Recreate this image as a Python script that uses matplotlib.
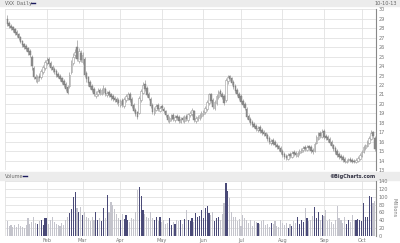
import numpy as np
import matplotlib.pyplot as plt

# VXX daily, 2013-01-02 .. 2013-10-10 (196 trading days)
opens = [29.0, 28.6, 28.3, 28.1, 27.9, 27.6, 27.4, 27.1, 26.7, 26.3, 26.1, 25.9, 25.6, 25.0,
         23.8, 22.9, 22.4, 23.0, 22.8, 23.4, 23.8, 24.3, 24.8, 24.3, 23.9, 23.7, 23.5, 23.2, 23.0, 22.7,
         22.4, 22.1, 21.8, 21.9, 23.4, 24.3, 25.2, 26.0, 24.5, 25.4, 24.4, 24.8, 23.3, 22.8,
         22.3, 21.9, 21.6, 20.8, 21.0, 21.5, 21.1, 21.3, 21.6, 20.9, 21.3, 21.0, 20.8, 20.6, 20.5,
         20.4, 19.9, 20.4, 19.8, 20.4, 20.6, 21.1, 20.5, 19.9, 19.4, 19.1, 19.0, 20.4, 21.2, 22.1, 21.7,
         21.1, 20.5, 19.9, 19.0, 19.4, 19.9, 19.3, 19.8, 19.5, 19.3, 18.8, 18.2, 18.4, 18.8, 18.3,
         18.7, 18.6, 18.1, 18.5, 18.2, 18.7, 18.3, 18.8, 18.9, 19.2, 18.2, 18.4, 18.5, 18.7,
         18.9, 19.1, 19.5, 20.1, 21.0, 20.4, 19.6, 20.1, 20.7, 21.4, 21.1, 20.8, 20.4, 22.4, 23.0, 22.7,
         22.3, 21.9, 21.5, 21.1, 20.8, 20.3, 20.0, 19.5, 18.7, 18.4, 18.1, 17.9, 17.7, 17.2, 17.6, 17.2,
         17.0, 16.9, 16.7, 16.4, 15.9, 16.2, 16.0, 15.7, 15.5, 15.3, 15.0, 14.7, 14.5, 14.2, 14.7, 14.4,
         14.9, 14.8, 14.5, 14.8, 14.9, 15.1, 15.4, 15.1, 15.5, 15.4, 15.1, 15.0, 15.9, 16.3, 16.9, 16.5,
         17.1, 16.6, 16.5, 16.3, 16.0, 15.6, 15.3, 15.0, 14.7, 14.5, 14.4, 14.2, 13.8, 14.1, 14.2, 14.1,
         14.0, 13.8, 14.0, 14.2, 14.5, 14.9, 15.3, 15.5, 15.9, 16.3, 17.0, 16.4]
highs = [29.4, 28.8, 28.5, 28.3, 28.0, 27.8, 27.5, 27.2, 26.8, 26.5, 26.3, 26.0, 25.8, 25.2,
         24.0, 23.2, 23.1, 23.3, 23.7, 24.1, 24.6, 25.0, 25.0, 24.5, 24.1, 23.9, 23.7, 23.4, 23.2, 22.9,
         22.6, 22.3, 22.0, 23.4, 24.6, 25.4, 25.8, 26.8, 25.9, 25.7, 25.5, 25.0, 23.5, 23.0,
         22.5, 22.1, 21.8, 21.4, 21.7, 21.7, 21.7, 22.0, 21.8, 21.4, 21.5, 21.2, 21.0, 20.8, 20.7,
         20.6, 20.5, 20.6, 20.7, 21.0, 21.3, 21.3, 20.7, 20.1, 19.6, 19.3, 20.8, 21.6, 22.3, 22.5, 21.9,
         21.3, 20.7, 20.1, 19.7, 20.0, 20.1, 19.8, 20.0, 19.7, 19.4, 18.9, 18.7, 18.9, 19.0, 18.8,
         18.9, 18.8, 18.6, 18.7, 18.8, 18.9, 19.0, 19.2, 19.6, 19.4, 18.7, 18.8, 19.0, 19.2,
         19.4, 19.8, 20.4, 21.2, 21.2, 20.6, 20.4, 21.0, 21.5, 21.6, 21.3, 21.0, 22.7, 23.1, 23.1, 22.9,
         22.5, 22.1, 21.7, 21.3, 21.0, 20.5, 20.2, 19.7, 18.9, 18.6, 18.3, 18.1, 17.9, 17.7, 17.8, 17.4,
         17.2, 17.0, 16.9, 16.6, 16.3, 16.4, 16.2, 15.9, 15.7, 15.5, 15.2, 14.9, 14.7, 14.8, 14.9, 15.0,
         15.1, 15.0, 15.0, 15.2, 15.3, 15.5, 15.6, 15.6, 15.7, 15.6, 15.3, 16.0, 16.7, 17.0, 17.1, 17.3,
         17.3, 16.8, 16.7, 16.5, 16.2, 15.8, 15.5, 15.2, 14.9, 14.7, 14.6, 14.4, 14.2, 14.3, 14.4, 14.3,
         14.2, 14.3, 14.5, 14.8, 15.1, 15.6, 15.8, 16.2, 16.6, 17.2, 17.1, 16.6]
lows = [28.3, 28.0, 27.8, 27.6, 27.3, 27.1, 26.8, 26.4, 26.0, 25.8, 25.6, 25.2, 25.0, 23.6,
        22.6, 22.3, 22.2, 22.4, 22.6, 23.2, 23.6, 24.1, 24.0, 23.6, 23.4, 23.2, 22.9, 22.7, 22.4, 22.1,
        21.8, 21.4, 21.0, 21.7, 23.2, 24.1, 24.9, 24.5, 24.3, 24.4, 24.2, 22.9, 22.3, 21.9,
        21.6, 21.3, 20.8, 20.6, 20.8, 20.9, 20.9, 21.1, 20.8, 20.7, 20.7, 20.4, 20.3, 20.2, 20.0,
        19.8, 19.7, 19.7, 19.6, 20.2, 20.4, 20.2, 19.6, 19.1, 18.7, 18.4, 18.9, 20.2, 21.0, 21.4, 20.7,
        20.4, 19.6, 18.9, 18.8, 19.2, 19.3, 19.1, 19.4, 19.0, 18.6, 18.1, 18.0, 18.2, 18.2, 18.1,
        18.3, 18.0, 18.0, 18.1, 18.0, 18.2, 18.1, 18.6, 18.7, 18.1, 18.0, 18.2, 18.3, 18.5,
        18.7, 18.9, 19.3, 19.9, 20.1, 19.5, 19.4, 19.9, 20.5, 20.8, 20.5, 19.9, 20.2, 22.1, 22.4, 22.0,
        21.6, 21.2, 20.8, 20.4, 20.0, 19.7, 19.4, 18.4, 18.1, 17.8, 17.6, 17.4, 17.1, 17.0, 16.9, 16.7,
        16.6, 16.4, 16.1, 15.8, 15.7, 15.6, 15.4, 15.2, 15.0, 14.7, 14.4, 14.2, 14.1, 14.1, 14.3, 14.3,
        14.5, 14.4, 14.4, 14.6, 14.8, 14.9, 15.0, 15.0, 15.1, 14.8, 14.7, 14.9, 15.8, 16.2, 16.4, 16.4,
        16.3, 16.2, 16.0, 15.7, 15.3, 15.0, 14.7, 14.4, 14.2, 14.1, 13.9, 13.7, 13.7, 13.9, 13.8, 13.7,
        13.7, 13.7, 13.9, 14.1, 14.4, 14.8, 15.1, 15.4, 15.8, 16.2, 16.4, 15.0]
closes = [28.5, 28.2, 28.0, 27.8, 27.5, 27.3, 27.0, 26.6, 26.2, 26.0, 25.8, 25.5, 25.2, 24.0,
          22.9, 22.6, 22.8, 22.7, 23.5, 23.9, 24.4, 24.7, 24.2, 23.8, 23.6, 23.4, 23.1, 22.9, 22.6, 22.3,
          22.0, 21.6, 21.2, 23.1, 24.2, 25.0, 25.5, 24.8, 25.6, 24.6, 25.2, 23.1, 22.6, 22.2,
          21.8, 21.5, 21.0, 21.1, 21.4, 21.2, 21.5, 21.7, 21.0, 21.2, 20.9, 20.7, 20.5, 20.4, 20.2,
          20.1, 20.3, 19.9, 20.5, 20.8, 21.0, 20.4, 19.8, 19.3, 18.9, 18.6, 20.6, 21.4, 22.0, 21.6, 20.9,
          20.6, 19.8, 19.1, 19.5, 19.8, 19.5, 19.6, 19.6, 19.2, 18.8, 18.3, 18.5, 18.7, 18.4, 18.6,
          18.5, 18.2, 18.4, 18.3, 18.6, 18.4, 18.9, 19.0, 19.4, 18.3, 18.5, 18.6, 18.8, 19.0,
          19.2, 19.6, 20.2, 21.0, 20.3, 19.7, 20.2, 20.8, 21.3, 21.0, 20.7, 20.1, 22.5, 22.9, 22.6, 22.2,
          21.8, 21.4, 21.0, 20.6, 20.2, 19.9, 19.6, 18.6, 18.3, 18.0, 17.8, 17.6, 17.3, 17.5, 17.1, 16.9,
          16.8, 16.6, 16.3, 16.0, 16.1, 15.8, 15.6, 15.4, 15.2, 14.9, 14.6, 14.4, 14.3, 14.6, 14.5, 14.8,
          14.7, 14.6, 14.8, 15.0, 15.1, 15.3, 15.2, 15.4, 15.3, 15.0, 14.9, 15.8, 16.5, 16.8, 16.6, 17.0,
          16.5, 16.4, 16.2, 15.9, 15.5, 15.2, 14.9, 14.6, 14.4, 14.3, 14.1, 13.9, 14.0, 14.1, 14.0, 13.9,
          13.9, 14.1, 14.3, 14.6, 14.9, 15.4, 15.6, 16.0, 16.4, 16.9, 16.6, 15.2]
# volume, millions
volume = [37, 25, 28, 24, 27, 22, 30, 26, 24, 20, 28,
          46, 30, 36, 49, 33, 30, 38, 42, 28, 45,
          46, 30, 41, 49, 35, 30, 28, 26, 33, 27,
          40, 49, 59, 69, 100, 113, 72, 62, 74, 54,
          60, 49, 45, 38, 49, 41, 62, 40, 46, 38,
          72, 45, 105, 60, 87, 79, 69, 55, 46, 42,
          56, 44, 54, 40, 36, 46, 44, 60, 118, 126,
          103, 67, 56, 49, 45, 60, 47, 40, 48, 38,
          49, 36, 41, 30, 34, 46, 28, 36, 30, 42,
          38, 41, 30, 44, 67, 40, 38, 47, 35, 58,
          49, 52, 65, 45, 72, 77, 58, 53, 62, 38,
          45, 49, 40, 55, 85, 136, 115, 97, 62, 49,
          49, 38, 43, 26, 54, 46, 41, 33, 41, 26,
          38, 36, 33, 30, 38, 40, 28, 30, 22, 34,
          30, 38, 26, 24, 40, 32, 28, 34, 20, 30,
          26, 38, 34, 49, 30, 40, 36, 72, 45, 38,
          40, 50, 74, 46, 62, 40, 54, 50, 66, 38,
          44, 36, 30, 40, 77, 46, 41, 34, 49, 30,
          41, 36, 54, 40, 41, 44, 41, 38, 85, 48,
          49, 103, 100, 85, 90]
# first trading day of each month (index) and label
month_idx = [21, 40, 60, 82, 104, 124, 146, 168, 188]
month_lbl = ['Feb', 'Mar', 'Apr', 'May', 'Jun', 'Jul', 'Aug', 'Sep', 'Oct']
price_ticks = list(range(13, 31))
vol_ticks = [0, 20, 40, 60, 80, 100, 120, 140]

o = np.array(opens); h = np.array(highs); l = np.array(lows); c = np.array(closes)
v = np.array(volume)
x = np.arange(len(c))
up = c >= o

W, H = 400, 243
fig = plt.figure(figsize=(W / 100, H / 100), dpi=100)
fig.patch.set_facecolor('white')

def fx(px):
    return px / W

def fy(py):
    return 1 - py / H

grid_c = '#e2e2e2'
lab_c = '#777777'
fs = 3.6

# header band and the band between panels
fig.add_artist(plt.Rectangle((0, fy(6.5)), 1, 6.5 / H, color='#ececec', transform=fig.transFigure, zorder=0))
fig.add_artist(plt.Rectangle((0, fy(180)), 1, 8 / H, color='#ececec', transform=fig.transFigure, zorder=0))
fig.text(fx(5), fy(3.3), 'VXX Daily', fontsize=fs, color='#666666', va='center', family='DejaVu Sans Mono')
fig.add_artist(plt.Line2D([fx(31), fx(35)], [fy(3.3), fy(3.3)], color='#1a1a5e', lw=1, transform=fig.transFigure))
fig.text(fx(397), fy(3.3), '10-10-13', fontsize=fs, color='#666666', va='center', ha='right')
fig.text(fx(5), fy(176), 'Volume', fontsize=fs, color='#666666', va='center')
fig.add_artist(plt.Line2D([fx(23), fx(27)], [fy(176), fy(176)], color='#1a1a5e', lw=1, transform=fig.transFigure))
fig.text(fx(375), fy(176), '\u00a9BigCharts.com', fontsize=fs, color='#333344', va='center', ha='right',
         fontweight='bold')

left, right = fx(5), fx(376)
ax = fig.add_axes([left, fy(170), right - left, (170 - 9.5) / H])
axv = fig.add_axes([left, fy(236), right - left, (236 - 181) / H])

for a in (ax, axv):
    a.set_xlim(-1.2, 195.6)
    a.set_xticks(month_idx)
    a.grid(True, color=grid_c, lw=0.6)
    a.set_axisbelow(True)
    a.yaxis.tick_right()
    a.tick_params(length=0, labelsize=fs, colors=lab_c, pad=2)
    for s in ('top', 'left', 'bottom'):
        a.spines[s].set_visible(False)
    a.spines['right'].set_color('#888888')
    a.spines['right'].set_linewidth(0.8)

ax.set_ylim(13, 30)
ax.set_yticks(price_ticks)
ax.set_xticklabels([])
ax.axvline(-1.2, color=grid_c, lw=0.6)

# candles
ax.vlines(x, l, h, color='#9a9a9a', lw=0.5, zorder=2)
body_lo = np.minimum(o, c)
body_h = np.maximum(np.abs(c - o), 0.08)
ax.bar(x[up], body_h[up], bottom=body_lo[up], width=0.8, color='white', edgecolor='#999999',
       linewidth=0.4, zorder=3)
ax.bar(x[~up], body_h[~up], bottom=body_lo[~up], width=0.8, color='#8c8c8c', edgecolor='#808080',
       linewidth=0.3, zorder=3)

# volume
axv.set_ylim(0, 140)
axv.set_yticks(vol_ticks)
axv.set_xticklabels(month_lbl)
axv.tick_params(axis='x', pad=1.5)
axv.axhline(0, color='#cccccc', lw=0.8)
axv.axvline(-1.2, color=grid_c, lw=0.6)
vcol = np.where(up, '#4a4a78', '#c4c4cc')
axv.bar(x, v, width=0.6, color=vcol, zorder=3)
fig.text(fx(394), fy(208), 'Millions', fontsize=fs, color=lab_c, rotation=270, va='center', ha='center')

fig.savefig('out.png', dpi=100)
